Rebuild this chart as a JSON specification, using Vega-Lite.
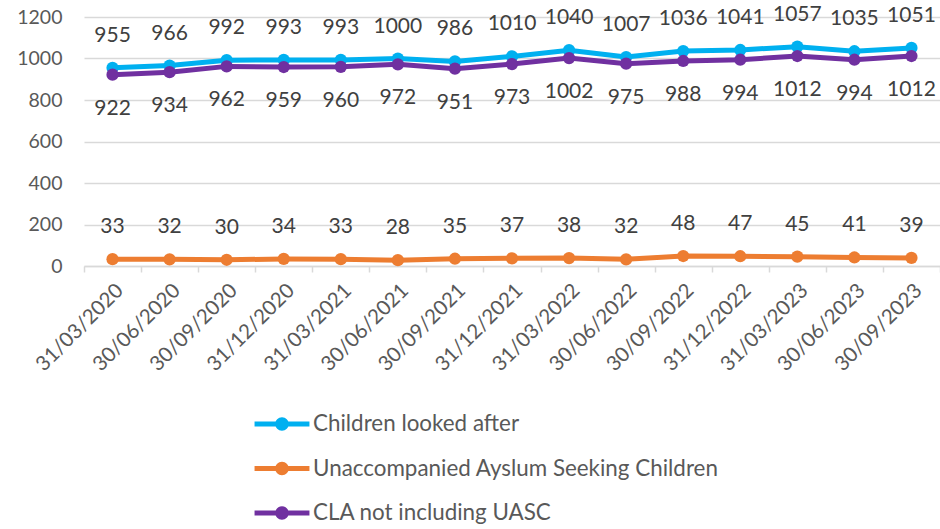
{
  "$schema": "https://vega.github.io/schema/vega-lite/v6.json",
  "width": 856,
  "height": 249,
  "autosize": {"type": "none"},
  "padding": {"left": 84, "top": 17, "right": 0, "bottom": 263},
  "background": "white",
  "config": {
    "font": "Lato",
    "view": {"stroke": null}
  },
  "data": {
    "values": [
      {"date": "31/03/2020", "series": "Children looked after", "value": 955},
      {"date": "30/06/2020", "series": "Children looked after", "value": 966},
      {"date": "30/09/2020", "series": "Children looked after", "value": 992},
      {"date": "31/12/2020", "series": "Children looked after", "value": 993},
      {"date": "31/03/2021", "series": "Children looked after", "value": 993},
      {"date": "30/06/2021", "series": "Children looked after", "value": 1000},
      {"date": "30/09/2021", "series": "Children looked after", "value": 986},
      {"date": "31/12/2021", "series": "Children looked after", "value": 1010},
      {"date": "31/03/2022", "series": "Children looked after", "value": 1040},
      {"date": "30/06/2022", "series": "Children looked after", "value": 1007},
      {"date": "30/09/2022", "series": "Children looked after", "value": 1036},
      {"date": "31/12/2022", "series": "Children looked after", "value": 1041},
      {"date": "31/03/2023", "series": "Children looked after", "value": 1057},
      {"date": "30/06/2023", "series": "Children looked after", "value": 1035},
      {"date": "30/09/2023", "series": "Children looked after", "value": 1051},
      {"date": "31/03/2020", "series": "Unaccompanied Ayslum Seeking Children", "value": 33},
      {"date": "30/06/2020", "series": "Unaccompanied Ayslum Seeking Children", "value": 32},
      {"date": "30/09/2020", "series": "Unaccompanied Ayslum Seeking Children", "value": 30},
      {"date": "31/12/2020", "series": "Unaccompanied Ayslum Seeking Children", "value": 34},
      {"date": "31/03/2021", "series": "Unaccompanied Ayslum Seeking Children", "value": 33},
      {"date": "30/06/2021", "series": "Unaccompanied Ayslum Seeking Children", "value": 28},
      {"date": "30/09/2021", "series": "Unaccompanied Ayslum Seeking Children", "value": 35},
      {"date": "31/12/2021", "series": "Unaccompanied Ayslum Seeking Children", "value": 37},
      {"date": "31/03/2022", "series": "Unaccompanied Ayslum Seeking Children", "value": 38},
      {"date": "30/06/2022", "series": "Unaccompanied Ayslum Seeking Children", "value": 32},
      {"date": "30/09/2022", "series": "Unaccompanied Ayslum Seeking Children", "value": 48},
      {"date": "31/12/2022", "series": "Unaccompanied Ayslum Seeking Children", "value": 47},
      {"date": "31/03/2023", "series": "Unaccompanied Ayslum Seeking Children", "value": 45},
      {"date": "30/06/2023", "series": "Unaccompanied Ayslum Seeking Children", "value": 41},
      {"date": "30/09/2023", "series": "Unaccompanied Ayslum Seeking Children", "value": 39},
      {"date": "31/03/2020", "series": "CLA not including UASC", "value": 922},
      {"date": "30/06/2020", "series": "CLA not including UASC", "value": 934},
      {"date": "30/09/2020", "series": "CLA not including UASC", "value": 962},
      {"date": "31/12/2020", "series": "CLA not including UASC", "value": 959},
      {"date": "31/03/2021", "series": "CLA not including UASC", "value": 960},
      {"date": "30/06/2021", "series": "CLA not including UASC", "value": 972},
      {"date": "30/09/2021", "series": "CLA not including UASC", "value": 951},
      {"date": "31/12/2021", "series": "CLA not including UASC", "value": 973},
      {"date": "31/03/2022", "series": "CLA not including UASC", "value": 1002},
      {"date": "30/06/2022", "series": "CLA not including UASC", "value": 975},
      {"date": "30/09/2022", "series": "CLA not including UASC", "value": 988},
      {"date": "31/12/2022", "series": "CLA not including UASC", "value": 994},
      {"date": "31/03/2023", "series": "CLA not including UASC", "value": 1012},
      {"date": "30/06/2023", "series": "CLA not including UASC", "value": 994},
      {"date": "30/09/2023", "series": "CLA not including UASC", "value": 1012}
    ]
  },
  "encoding": {
    "x": {
      "field": "date",
      "type": "ordinal",
      "sort": null,
      "scale": {"type": "band", "paddingInner": 0, "paddingOuter": 0},
      "axis": {
        "title": null,
        "labelAngle": -45,
        "labelFontSize": 20.5,
        "labelColor": "#595959",
        "labelPadding": 8,
        "domainColor": "#D9D9D9",
        "domainWidth": 1.5,
        "tickColor": "#D9D9D9",
        "tickWidth": 1.5,
        "tickSize": 6,
        "tickBand": "extent",
        "grid": false
      }
    },
    "y": {
      "field": "value",
      "type": "quantitative",
      "scale": {"domain": [0, 1200], "nice": false},
      "axis": {
        "title": null,
        "format": "d",
        "values": [0, 200, 400, 600, 800, 1000, 1200],
        "labelFontSize": 19.5,
        "labelColor": "#595959",
        "labelPadding": 22,
        "domain": false,
        "ticks": false,
        "gridColor": "#D9D9D9",
        "gridWidth": 1.5
      }
    }
  },
  "layer": [
    {
      "mark": {"type": "line", "strokeWidth": 5},
      "encoding": {
        "stroke": {
          "field": "series",
          "type": "nominal",
          "scale": {
            "domain": ["CLA not including UASC", "Children looked after", "Unaccompanied Ayslum Seeking Children"],
            "range": ["#7030A0", "#00B0F0", "#ED7D31"]
          },
          "legend": null
        }
      }
    },
    {
      "mark": {"type": "point", "filled": true, "opacity": 1, "size": 150},
      "encoding": {
        "color": {
          "field": "series",
          "type": "nominal",
          "scale": {
            "domain": ["Children looked after", "Unaccompanied Ayslum Seeking Children", "CLA not including UASC"],
            "range": ["#00B0F0", "#ED7D31", "#7030A0"]
          },
          "legend": {
            "title": null,
            "orient": "none",
            "legendX": 183,
            "legendY": 392,
            "direction": "vertical",
            "padding": 0,
            "symbolSize": 900,
            "symbolType": "M-1.83,-0.17L1.83,-0.17L1.83,0.17L-1.83,0.17ZM-0.45,0A0.45,0.45,0,1,1,0.45,0A0.45,0.45,0,1,1,-0.45,0Z",
            "symbolStrokeWidth": 0,
            "symbolOpacity": 1,
            "labelFontSize": 22.4,
            "labelColor": "#595959",
            "labelOffset": 16,
            "labelLimit": 700,
            "rowPadding": 17.5
          }
        }
      }
    },
    {
      "transform": [{"filter": "datum.series !== 'CLA not including UASC'"}],
      "mark": {"type": "text", "dy": -32, "fontSize": 21, "color": "#404040", "baseline": "middle"},
      "encoding": {"text": {"field": "value", "type": "quantitative", "format": "d"}}
    },
    {
      "transform": [{"filter": "datum.series === 'CLA not including UASC'"}],
      "mark": {"type": "text", "dy": 34, "fontSize": 21, "color": "#404040", "baseline": "middle"},
      "encoding": {"text": {"field": "value", "type": "quantitative", "format": "d"}}
    }
  ]
}
